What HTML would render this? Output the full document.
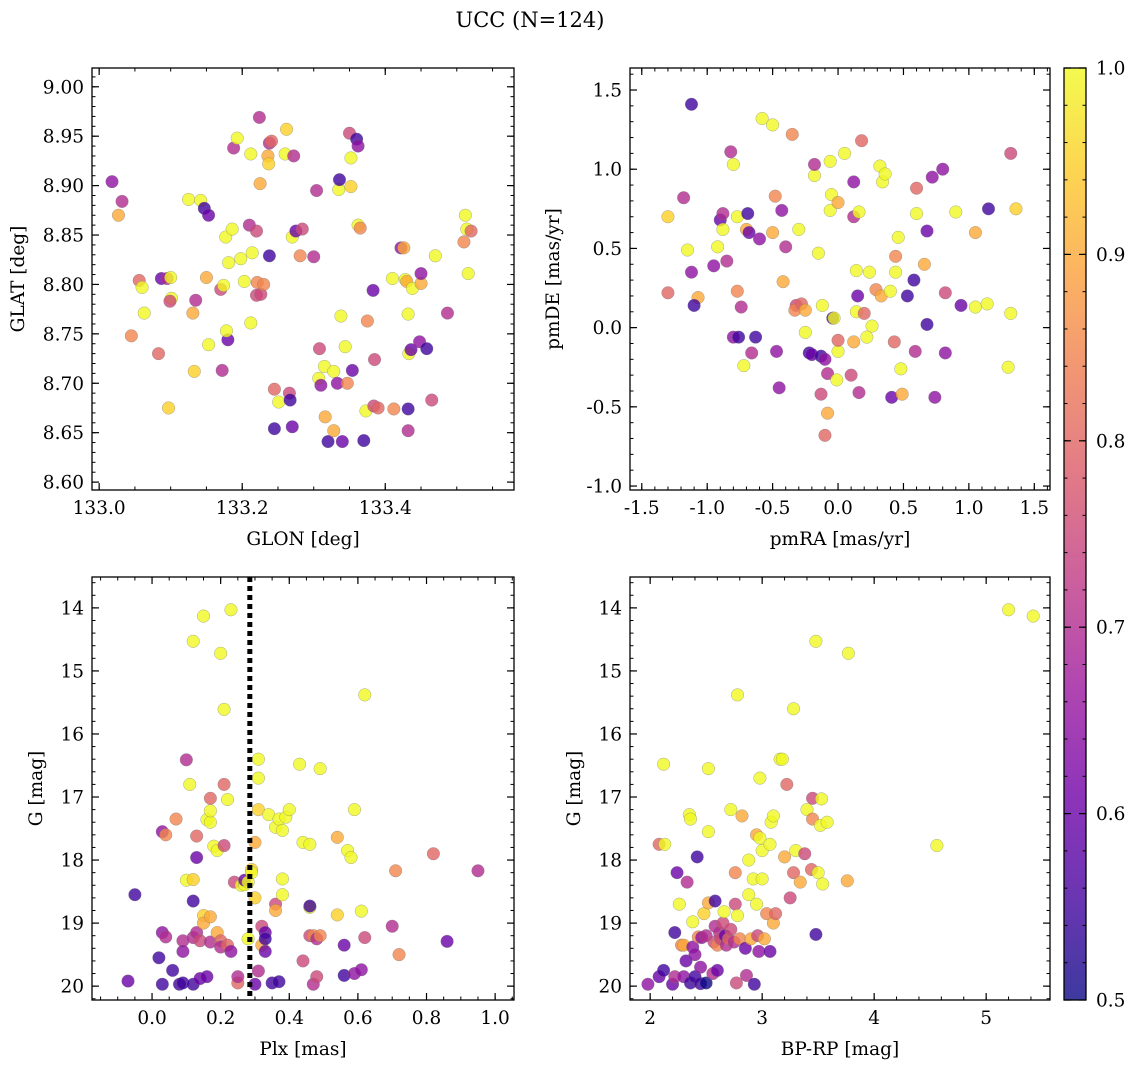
<!DOCTYPE html>
<html><head><meta charset="utf-8">
<style>
body{margin:0;background:#fff;}
svg text{font-family:"DejaVu Serif","Liberation Serif",serif;fill:#000;}
</style></head>
<body>
<svg id="fig" width="1136" height="1067" viewBox="0 0 1136 1067" xmlns="http://www.w3.org/2000/svg">
<rect width="1136" height="1067" fill="#fff"/>
<text x="530" y="27" font-size="21" text-anchor="middle">UCC (N=124)</text>
</svg>
<script>
// ---- Panel 1: GLON vs GLAT ----
const p1GLON=[133.018,133.027,133.032,133.056,133.060,133.063,133.045,133.087,133.083,133.095,133.101,133.099,133.100,133.097,133.135,133.131,133.125,133.142,133.147,133.150,133.153,133.153,133.133,133.170,133.174,133.177,133.172,133.180,133.178,133.181,133.186,133.188,133.193,133.198,133.203,133.210,133.212,133.214,133.212,133.220,133.221,133.220,133.224,133.225,133.226,133.230,133.236,133.237,133.238,133.238,133.241,133.245,133.245,133.251,133.260,133.262,133.266,133.267,133.270,133.270,133.272,133.275,133.281,133.284,133.300,133.304,133.307,133.308,133.310,133.315,133.316,133.320,133.328,133.328,133.333,133.335,133.336,133.338,133.340,133.344,133.347,133.350,133.352,133.352,133.354,133.360,133.362,133.362,133.365,133.370,133.373,133.375,133.383,133.385,133.384,133.390,133.410,133.412,133.422,133.426,133.428,133.430,133.432,133.432,133.432,133.433,133.436,133.438,133.450,133.450,133.448,133.458,133.465,133.470,133.487,133.510,133.512,133.514,133.516,133.520];
const p1GLAT=[8.904,8.870,8.884,8.804,8.797,8.771,8.748,8.806,8.730,8.806,8.786,8.783,8.807,8.675,8.784,8.771,8.886,8.885,8.877,8.807,8.739,8.870,8.712,8.795,8.799,8.848,8.713,8.744,8.753,8.822,8.856,8.938,8.948,8.826,8.803,8.860,8.932,8.832,8.761,8.789,8.802,8.854,8.969,8.902,8.790,8.800,8.930,8.922,8.829,8.943,8.945,8.694,8.654,8.681,8.932,8.957,8.690,8.683,8.656,8.848,8.930,8.854,8.829,8.856,8.828,8.895,8.705,8.735,8.698,8.717,8.666,8.641,8.652,8.712,8.700,8.896,8.906,8.768,8.641,8.737,8.700,8.953,8.928,8.899,8.713,8.947,8.940,8.860,8.857,8.642,8.672,8.763,8.794,8.724,8.677,8.675,8.806,8.674,8.837,8.837,8.805,8.803,8.674,8.652,8.770,8.730,8.734,8.796,8.801,8.811,8.742,8.735,8.683,8.829,8.771,8.843,8.870,8.856,8.811,8.854];
const p1Prob=[0.65,0.9,0.7,0.8,1.0,1.0,0.85,0.6,0.8,0.7,1.0,0.75,1.0,0.95,0.7,0.9,1.0,1.0,0.55,0.9,1.0,0.6,0.95,0.75,1.0,1.0,0.7,0.6,1.0,1.0,1.0,0.7,1.0,1.0,1.0,0.7,1.0,1.0,1.0,0.75,0.85,0.75,0.7,0.9,0.75,0.85,0.9,0.95,0.55,0.7,0.8,0.8,0.55,1.0,1.0,0.95,0.75,0.55,0.6,1.0,0.7,0.6,0.85,0.75,0.7,0.7,1.0,0.75,0.65,1.0,0.9,0.55,0.9,1.0,0.65,1.0,0.55,1.0,0.6,1.0,0.85,0.75,1.0,0.95,0.6,0.55,0.65,1.0,0.85,0.55,1.0,0.85,0.6,0.75,0.75,0.8,1.0,0.85,0.65,0.9,1.0,0.9,0.55,0.7,1.0,1.0,0.6,1.0,0.9,0.65,0.65,0.55,0.75,1.0,0.7,0.85,1.0,1.0,1.0,0.8];
const p1XTicks=[133.0,133.2,133.4];
const p1YTicks=[8.60,8.65,8.70,8.75,8.80,8.85,8.90,8.95,9.00];

// ---- Panel 2: pmRA vs pmDE ----
const p2PMRA=[-1.12,-1.18,-1.15,-1.3,-1.3,-1.07,-1.1,-1.12,-0.95,-0.92,-0.9,-0.88,-0.88,-0.85,-0.82,-0.8,-0.8,-0.76,-0.77,-0.77,-0.74,-0.72,-0.70,-0.68,-0.69,-0.66,-0.63,-0.6,-0.58,-0.5,-0.5,-0.48,-0.47,-0.45,-0.43,-0.42,-0.40,-0.35,-0.32,-0.33,-0.28,-0.30,-0.25,-0.25,-0.22,-0.20,-0.18,-0.18,-0.15,-0.13,-0.10,-0.12,-0.13,-0.08,-0.08,-0.1,-0.06,-0.06,-0.05,-0.04,-0.03,-0.01,0.0,0.0,0.0,0.05,0.10,0.12,0.12,0.12,0.14,0.14,0.15,0.16,0.16,0.18,0.20,0.22,0.24,0.26,0.29,0.32,0.33,0.34,0.36,0.40,0.41,0.43,0.44,0.44,0.46,0.48,0.49,0.53,0.58,0.59,0.60,0.60,0.66,0.68,0.68,0.72,0.74,0.82,0.82,0.80,0.90,0.94,1.05,1.05,1.15,1.14,1.30,1.32,1.32,1.36];
const p2PMDE=[1.41,0.82,0.49,0.22,0.70,0.19,0.14,0.35,0.39,0.51,0.68,0.72,0.62,0.42,1.11,1.03,-0.06,-0.06,0.23,0.70,0.13,-0.24,0.62,0.60,0.72,-0.16,-0.06,0.56,1.32,1.28,0.60,0.83,-0.15,-0.38,0.74,0.29,0.51,1.22,0.14,0.11,0.15,0.62,0.11,-0.03,-0.16,-0.17,0.96,1.03,0.47,-0.18,-0.2,0.14,-0.42,-0.54,-0.29,-0.68,1.05,0.74,0.84,0.06,0.06,-0.33,0.79,-0.15,-0.08,1.1,-0.30,0.92,0.7,-0.09,0.1,0.36,0.2,-0.41,0.73,1.18,0.09,-0.06,0.35,0.01,0.24,1.02,0.2,0.92,0.97,0.23,-0.44,-0.09,0.35,0.45,0.57,-0.26,-0.42,0.2,0.30,-0.15,0.72,0.88,0.40,0.02,0.61,0.95,-0.44,0.22,-0.16,1.0,0.73,0.14,0.60,0.13,0.75,0.15,-0.25,0.09,1.10,0.75];
const p2Prob=[0.55,0.7,1.0,0.8,0.95,0.9,0.55,0.65,0.65,1.0,0.6,0.7,1.0,0.7,0.7,1.0,0.65,0.55,0.85,1.0,0.7,1.0,0.9,0.6,0.55,0.7,0.55,0.65,1.0,1.0,0.9,0.85,0.65,0.65,0.65,0.9,0.7,0.85,0.75,0.85,0.8,1.0,0.9,1.0,0.55,0.6,1.0,0.7,1.0,0.55,0.65,1.0,0.75,0.9,0.7,0.8,1.0,1.0,1.0,0.55,1.0,1.0,0.9,1.0,0.8,1.0,0.75,0.65,0.7,0.9,1.0,1.0,0.6,0.7,1.0,0.8,0.8,1.0,1.0,1.0,0.85,1.0,0.9,1.0,1.0,1.0,0.6,0.8,1.0,0.85,1.0,1.0,0.9,0.55,0.55,0.7,1.0,0.8,0.9,0.55,0.6,0.65,0.65,0.75,0.65,0.65,1.0,0.6,0.9,1.0,0.55,1.0,1.0,1.0,0.75,0.95];
const p2XTicks=[-1.5,-1.0,-0.5,0.0,0.5,1.0,1.5];
const p2YTicks=[-1.0,-0.5,0.0,0.5,1.0,1.5];

// ---- Panel 3: Plx vs G ----
const p3Plx=[-0.07,-0.05,0.02,0.03,0.03,0.03,0.04,0.04,0.06,0.07,0.08,0.09,0.09,0.09,0.10,0.10,0.11,0.12,0.12,0.12,0.12,0.12,0.13,0.13,0.13,0.14,0.14,0.15,0.15,0.15,0.16,0.16,0.17,0.17,0.17,0.17,0.17,0.18,0.19,0.19,0.20,0.20,0.20,0.21,0.21,0.21,0.22,0.22,0.23,0.23,0.24,0.25,0.25,0.26,0.27,0.27,0.28,0.28,0.29,0.29,0.30,0.30,0.31,0.31,0.30,0.31,0.31,0.32,0.32,0.33,0.33,0.33,0.34,0.35,0.36,0.36,0.36,0.37,0.37,0.38,0.38,0.38,0.39,0.40,0.43,0.44,0.44,0.46,0.46,0.46,0.46,0.47,0.47,0.48,0.48,0.49,0.49,0.54,0.54,0.56,0.56,0.57,0.58,0.59,0.59,0.61,0.61,0.62,0.62,0.70,0.71,0.72,0.82,0.86,0.95];
const p3G=[19.92,18.55,19.55,19.97,19.15,17.55,17.6,19.22,19.75,17.35,19.97,19.28,19.45,19.95,18.32,16.41,16.80,18.31,19.97,19.23,14.53,18.65,19.15,17.96,17.62,19.28,19.88,14.13,18.88,19.0,17.36,19.85,17.4,18.9,17.02,17.22,19.3,17.78,17.85,19.15,14.72,19.28,19.38,17.77,15.61,16.8,17.04,19.35,19.45,14.03,18.35,19.95,19.85,18.4,18.39,18.32,18.35,19.25,18.15,18.2,18.6,19.97,16.4,16.7,17.72,17.2,19.76,19.05,19.35,19.15,19.25,19.45,17.28,19.95,18.7,18.8,17.48,19.93,17.35,18.3,18.55,17.53,17.32,17.2,16.48,17.72,19.6,18.75,17.75,18.73,19.2,19.97,19.2,19.85,19.25,16.55,19.2,18.87,17.64,19.83,19.35,17.85,17.96,17.2,19.8,19.74,18.81,15.38,19.23,19.05,18.17,19.5,17.9,19.29,18.17];
const p3Prob=[0.6,0.55,0.55,0.55,0.65,0.65,0.85,0.7,0.55,0.85,0.55,0.7,0.65,0.55,1.0,0.7,1.0,0.95,0.55,0.7,1.0,0.55,0.7,0.6,0.8,0.75,0.6,1.0,0.95,0.9,1.0,0.6,1.0,0.9,0.8,1.0,0.7,1.0,1.0,0.9,1.0,0.8,0.7,0.75,1.0,0.8,1.0,0.8,0.65,1.0,0.75,0.8,0.7,1.0,1.0,0.6,1.0,1.0,0.95,1.0,0.95,0.6,1.0,1.0,0.9,0.95,0.7,0.75,0.9,0.6,0.55,0.6,1.0,0.55,0.75,0.9,1.0,0.55,1.0,1.0,1.0,1.0,1.0,1.0,1.0,1.0,0.75,1.0,1.0,0.55,0.75,0.7,0.85,0.75,0.7,1.0,0.85,0.95,0.9,0.55,0.6,1.0,1.0,1.0,0.65,0.65,1.0,1.0,0.75,0.7,0.85,0.85,0.8,0.6,0.7];
const p3CutPlx=[0.285];
const p3XTicks=[0.0,0.2,0.4,0.6,0.8,1.0];
const gTicks=[14,15,16,17,18,19,20];

// ---- Panel 4: BP-RP vs G ----
const p4BPRP=[1.98,2.08,2.08,2.12,2.12,2.13,2.2,2.22,2.22,2.24,2.26,2.28,2.3,2.3,2.32,2.33,2.35,2.36,2.36,2.38,2.38,2.4,2.4,2.42,2.43,2.45,2.45,2.46,2.48,2.5,2.5,2.52,2.52,2.52,2.56,2.57,2.58,2.58,2.6,2.6,2.62,2.63,2.65,2.66,2.67,2.68,2.7,2.72,2.72,2.75,2.76,2.76,2.77,2.78,2.78,2.8,2.82,2.85,2.86,2.88,2.88,2.9,2.92,2.93,2.95,2.95,2.96,2.97,2.98,2.98,3.0,3.0,3.02,3.04,3.07,3.07,3.08,3.1,3.1,3.12,3.16,3.18,3.2,3.22,3.25,3.28,3.28,3.3,3.34,3.38,3.4,3.44,3.45,3.45,3.48,3.48,3.5,3.52,3.53,3.54,3.58,3.76,3.77,4.56,5.2,5.42];
const p4G=[19.97,19.85,17.75,16.48,19.75,17.75,19.97,19.85,19.15,18.2,18.7,19.35,19.85,19.35,19.6,18.35,17.28,17.35,19.95,19.38,18.98,19.85,19.5,17.95,19.22,19.7,19.96,19.23,18.85,19.2,19.95,18.68,16.55,17.55,19.8,19.3,18.65,19.05,19.75,19.35,19.15,19.25,19.0,18.82,19.2,19.35,19.25,17.2,19.1,19.3,18.7,18.2,19.95,18.88,15.38,19.25,17.3,19.4,19.83,18.55,18.0,19.25,18.3,19.97,18.7,17.6,19.2,19.45,16.7,17.65,18.3,17.85,19.25,18.85,19.45,17.75,17.4,19.0,17.3,18.85,16.4,16.4,17.95,16.8,18.6,18.2,15.6,17.85,18.35,17.9,17.2,18.15,17.02,17.35,14.53,19.18,18.2,17.45,17.03,18.38,17.4,18.33,14.72,17.77,14.03,14.13];
const p4Prob=[0.65,0.6,0.8,1.0,0.55,1.0,0.6,0.7,0.55,0.6,1.0,0.85,0.65,0.9,0.6,0.7,1.0,1.0,0.55,0.65,1.0,0.55,0.65,0.55,0.85,0.65,0.55,0.65,0.95,0.7,0.5,0.9,1.0,1.0,0.7,0.75,0.55,0.7,0.6,0.85,0.7,0.75,0.75,1.0,0.6,0.7,0.8,1.0,0.75,0.7,0.75,0.85,0.75,1.0,1.0,0.85,0.9,0.6,0.7,1.0,1.0,0.9,1.0,0.55,1.0,0.9,0.75,0.65,1.0,1.0,1.0,1.0,0.9,0.85,0.6,1.0,1.0,0.9,1.0,0.8,1.0,1.0,0.9,0.8,0.75,0.8,1.0,1.0,0.9,0.75,1.0,0.8,0.75,0.85,1.0,0.55,1.0,1.0,1.0,1.0,1.0,0.9,1.0,1.0,1.0,1.0];
const p4XTicks=[2,3,4,5];
const cbTicks=[0.5,0.6,0.7,0.8,0.9,1.0];

const svg=document.getElementById('fig');
const NS='http://www.w3.org/2000/svg';
const FS=18.5;
function mk(tag,attrs,parent){const e=document.createElementNS(NS,tag);for(const k in attrs)e.setAttribute(k,attrs[k]);(parent||svg).appendChild(e);return e;}
const plasma=['#0d0887','#46039f','#7201a8','#9c179e','#bd3786','#d8576b','#ed7953','#fb9f3a','#fdca26','#f0f921'];
function hex(h){return [parseInt(h.substr(1,2),16),parseInt(h.substr(3,2),16),parseInt(h.substr(5,2),16)];}
function cmap(v){let t=Math.max(0,Math.min(1,(v-0.5)/0.5))*(plasma.length-1);let i=Math.min(Math.floor(t),plasma.length-2);let f=t-i;const a=hex(plasma[i]),b=hex(plasma[i+1]);return 'rgb('+a.map((x,j)=>Math.round(x+(b[j]-x)*f)).join(',')+')';}
function fmt(v,d){return v.toFixed(d);}
function minorList(a,b,step){const r=[];const n=Math.round((b-a)/step);for(let i=0;i<=n;i++)r.push(a+i*step);return r;}

function panel(o){
  const g=mk('g',{});
  
  
  const X=v=>o.L+(v-o.x0)/(o.x1-o.x0)*(o.R-o.L);
  const Y=v=>o.B-(v-o.y0)/(o.y1-o.y0)*(o.B-o.T);
  for(let i=0;i<o.xs.length;i++){
    const c=mk('circle',{cx:X(o.xs[i]),cy:Y(o.ys[i]),r:6.3,fill:cmap(o.cs[i]),'fill-opacity':0.8,stroke:'#777','stroke-width':0.5,'stroke-opacity':0.6},g);
    
    
  }
  if(o.vline){o.vline.forEach(v=>{const l=mk('line',{x1:X(v),x2:X(v),y1:o.T,y2:o.B,stroke:'#000','stroke-width':5,'stroke-dasharray':'5,4'},g);});}
  const fr=mk('rect',{x:o.L,y:o.T,width:o.R-o.L,height:o.B-o.T,fill:'none',stroke:'#000','stroke-width':1.3},g);
  
  const lo=Math.min(o.x0,o.x1),hi=Math.max(o.x0,o.x1);
  minorList(o.xmA,o.xmB,o.xmS).forEach(v=>{if(v<lo-1e-9||v>hi+1e-9)return;const x=X(v);mk('line',{x1:x,x2:x,y1:o.B,y2:o.B-3.5,stroke:'#000'},g);mk('line',{x1:x,x2:x,y1:o.T,y2:o.T+3.5,stroke:'#000'},g);});
  const ylo=Math.min(o.y0,o.y1),yhi=Math.max(o.y0,o.y1);
  minorList(o.ymA,o.ymB,o.ymS).forEach(v=>{if(v<ylo-1e-9||v>yhi+1e-9)return;const y=Y(v);mk('line',{x1:o.L,x2:o.L+3.5,y1:y,y2:y,stroke:'#000'},g);mk('line',{x1:o.R,x2:o.R-3.5,y1:y,y2:y,stroke:'#000'},g);});
  o.xt.forEach(v=>{const x=X(v);mk('line',{x1:x,x2:x,y1:o.B,y2:o.B-7,stroke:'#000','stroke-width':1.2},g);mk('line',{x1:x,x2:x,y1:o.T,y2:o.T+7,stroke:'#000','stroke-width':1.2},g);
    const t=mk('text',{x:x,y:o.B+24,'font-size':FS,'text-anchor':'middle'},g);t.textContent=fmt(v,o.xd);});
  o.yt.forEach(v=>{const y=Y(v);mk('line',{x1:o.L,x2:o.L+7,y1:y,y2:y,stroke:'#000','stroke-width':1.2},g);mk('line',{x1:o.R,x2:o.R-7,y1:y,y2:y,stroke:'#000','stroke-width':1.2},g);
    const t=mk('text',{x:o.L-8,y:y+6.5,'font-size':FS,'text-anchor':'end'},g);t.textContent=fmt(v,o.yd);});
  const xl=mk('text',{x:(o.L+o.R)/2,y:o.B+55,'font-size':FS,'text-anchor':'middle'},g);xl.textContent=o.xlab;
  const yl=mk('text',{x:0,y:0,'font-size':FS,'text-anchor':'middle',transform:'translate('+o.ylx+','+((o.T+o.B)/2)+') rotate(-90)'},g);yl.textContent=o.ylab;
}

panel({name:'glon-glat-panel',L:92,R:514,T:68,B:490,x0:132.99,x1:133.58,y0:8.592,y1:9.019,xs:p1GLON,ys:p1GLAT,cs:p1Prob,xt:p1XTicks,yt:p1YTicks,xd:1,yd:2,xmA:132.95,xmB:133.6,xmS:0.05,ymA:8.55,ymB:9.05,ymS:0.01,xlab:'GLON [deg]',ylab:'GLAT [deg]',ylx:24});
panel({name:'proper-motion-panel',L:630,R:1050,T:68,B:490,x0:-1.59,x1:1.62,y0:-1.025,y1:1.639,xs:p2PMRA,ys:p2PMDE,cs:p2Prob,xt:p2XTicks,yt:p2YTicks,xd:1,yd:1,xmA:-1.6,xmB:1.7,xmS:0.1,ymA:-1.1,ymB:1.7,ymS:0.1,xlab:'pmRA [mas/yr]',ylab:'pmDE [mas/yr]',ylx:559});
panel({name:'parallax-magnitude-panel',L:92,R:514,T:577,B:1000,x0:-0.175,x1:1.055,y0:20.22,y1:13.51,xs:p3Plx,ys:p3G,cs:p3Prob,xt:p3XTicks,yt:gTicks,xd:1,yd:0,xmA:-0.2,xmB:1.1,xmS:0.05,ymA:13.4,ymB:20.4,ymS:0.2,xlab:'Plx [mas]',ylab:'G [mag]',ylx:42,vline:p3CutPlx});
panel({name:'color-magnitude-panel',L:630,R:1050,T:577,B:1000,x0:1.82,x1:5.57,y0:20.22,y1:13.51,xs:p4BPRP,ys:p4G,cs:p4Prob,xt:p4XTicks,yt:gTicks,xd:0,yd:0,xmA:1.8,xmB:5.6,xmS:0.2,ymA:13.4,ymB:20.4,ymS:0.2,xlab:'BP-RP [mag]',ylab:'G [mag]',ylx:580});

(function(){
  const g=mk('g',{});
  const L=1064,R=1086,T=68,B=1000;
  const defs=mk('defs',{},g);const lg=mk('linearGradient',{id:'cbg',x1:0,y1:1,x2:0,y2:0},defs);
  plasma.forEach((c,i)=>mk('stop',{offset:i/(plasma.length-1),'stop-color':c},lg));
  mk('rect',{x:L,y:T,width:R-L,height:B-T,fill:'url(#cbg)','fill-opacity':0.8},g);
  mk('rect',{x:L,y:T,width:R-L,height:B-T,fill:'none',stroke:'#000','stroke-width':1.3},g);
  const Y=v=>B-(v-0.5)/0.5*(B-T);
  for(let v=0.5;v<=1.0001;v+=0.02){const y=Y(v);mk('line',{x1:R,x2:R-3.5,y1:y,y2:y,stroke:'#000'},g);mk('line',{x1:L,x2:L+3.5,y1:y,y2:y,stroke:'#000'},g);}
  cbTicks.forEach(v=>{const y=Y(v);mk('line',{x1:R,x2:R-7,y1:y,y2:y,stroke:'#000','stroke-width':1.2},g);mk('line',{x1:L,x2:L+7,y1:y,y2:y,stroke:'#000','stroke-width':1.2},g);
    const t=mk('text',{x:R+10,y:y+6.5,'font-size':FS},g);t.textContent=v.toFixed(1);});
})();
</script>
</body></html>
